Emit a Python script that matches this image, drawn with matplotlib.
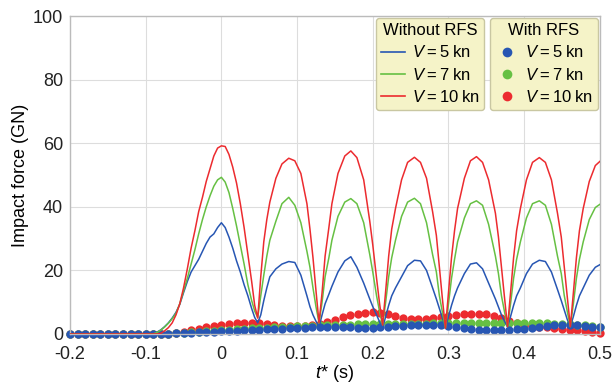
import matplotlib
matplotlib.use('Agg')
import matplotlib.pyplot as plt
from matplotlib.lines import Line2D
import numpy as np

plt.rcParams['font.family'] = ['Liberation Sans', 'DejaVu Sans']
plt.rcParams['mathtext.fontset'] = 'custom'
plt.rcParams['mathtext.rm'] = 'Liberation Sans'
plt.rcParams['mathtext.it'] = 'Liberation Sans:italic'
plt.rcParams['axes.unicode_minus'] = False

# time base for the "without RFS" curves
t_line = [-0.2, -0.15, -0.1, -0.09, -0.085, -0.08, -0.075, -0.07, -0.065, -0.06,
          -0.055, -0.05, -0.045, -0.04, -0.035, -0.03, -0.025, -0.02, -0.015, -0.01,
          -0.005, 0.0, 0.005, 0.01, 0.015, 0.02, 0.025, 0.03, 0.035, 0.04, 0.044, 0.048,
          0.052, 0.056, 0.060, 0.064, 0.072, 0.080, 0.089, 0.097, 0.105, 0.113, 0.117, 0.121, 0.125, 0.129,
          0.133, 0.137, 0.142, 0.146, 0.154, 0.163, 0.171, 0.179, 0.188, 0.196, 0.200, 0.205, 0.209, 0.213,
          0.217, 0.221, 0.225, 0.230, 0.238, 0.246, 0.255, 0.263, 0.271, 0.279, 0.284, 0.288, 0.292, 0.296,
          0.300, 0.304, 0.308, 0.312, 0.321, 0.329, 0.337, 0.345, 0.353, 0.362, 0.366, 0.370, 0.374, 0.378,
          0.382, 0.386, 0.390, 0.395, 0.403, 0.411, 0.420, 0.428, 0.436, 0.444, 0.449, 0.453, 0.457, 0.461,
          0.465, 0.469, 0.473, 0.478, 0.486, 0.494, 0.500]

red_line = [0, 0, 0, 0, 0, 0.2, 1.0, 2.0, 3.5, 6.0,
            9.5, 14.5, 20.5, 27, 32.5, 38.5, 43, 48, 52, 56,
            58.5, 59.2, 59, 56.5, 52.5, 47.5, 41, 33.5, 25, 16.5, 9, 5,
            18, 29, 36, 41.5, 49, 53.5, 55.3, 54.5, 50.5, 41, 33, 24, 13.5, 3.5,
            13, 24.5, 33.5, 41, 50.5, 56, 57.6, 55.5, 48.5, 35.5, 28, 17.5, 9.5, 2.8,
            13.5, 24.5, 33, 39.5, 48.5, 54, 55.6, 54, 49, 38.5, 31, 21, 11, 1.8,
            13, 24, 32.5, 39.5, 49, 54.5, 55.8, 54, 48.5, 38, 30.5, 21, 11.5, 2.3,
            13, 24, 32.5, 39.5, 48.5, 54, 55.5, 54, 48.5, 38, 30.5, 21, 11.5, 2.3,
            13, 24, 32.5, 39.5, 48, 53, 54.3]

green_line = [0, 0, 0, 0, 0.5, 1.2, 2.2, 3.4, 4.8, 6.5,
              9.5, 13.5, 17.5, 22, 26.5, 31.5, 36, 40, 43.5, 46.5,
              48.5, 49.3, 47.8, 44.5, 39.5, 34, 28, 22, 15.5, 10.5, 7.2, 5.2,
              12, 18.5, 24.5, 29.5, 35.5, 41, 43, 40.5, 35, 26, 21, 14.5, 8.5, 3.5,
              10, 18, 24, 29.5, 37, 41.5, 42.6, 41, 35, 25, 19.5, 12, 7, 2.8,
              10, 18, 24, 29.5, 37, 41.5, 42.7, 41, 35, 25, 19.5, 12, 6.8, 1.8,
              9.5, 17.5, 23.5, 29, 36.5, 41, 41.9, 40.5, 34.5, 24.5, 19, 12, 7, 2.3,
              9.5, 17.5, 23.5, 29, 36.5, 41, 41.9, 40.5, 34.5, 24.5, 19, 12, 7, 2.3,
              9.5, 17.5, 23.5, 29, 36, 39.8, 40.8]

blue_line = [0, 0, 0, 0, 0.6, 1.3, 2.3, 3.5, 5, 6.8,
             9.3, 13, 16.5, 19.5, 21.5, 23.5, 26, 28.5, 30.5, 31.5,
             33.5, 35, 33.5, 30.5, 27, 23, 19.5, 15.5, 12, 8, 5.2, 3.5,
             6, 10.5, 14.5, 18, 20.5, 22, 22.8, 22.5, 18.5, 12, 8.6, 6, 4, 2.3,
             6, 9.5, 12.5, 15, 19.5, 23, 24.3, 21, 16, 11, 8.6, 6, 3.8, 1.8,
             5.5, 9, 12, 14.5, 18, 21.5, 23.2, 23, 20, 14.5, 11, 8, 5, 1.8,
             5.5, 9, 12, 14.5, 19, 22, 22.4, 20.5, 16, 11, 8.5, 6, 4, 2.3,
             5.5, 9, 12, 14.5, 19, 22, 23.2, 22.8, 19.5, 14, 10.5, 7.5, 4.5, 2.3,
             5.5, 9, 12, 14.5, 18.5, 21, 21.8]

# "with RFS" samples, every 0.01 s
t_dot = np.round(np.arange(-0.2, 0.5001, 0.01), 2)

blue_dot = [0] * 12 + [
    0.05, 0.15, 0.25, 0.35, 0.45, 0.55, 0.65, 0.75, 0.85, 0.95,
    1.05, 1.15, 1.25, 1.35, 1.45, 1.55, 1.65, 1.75, 1.85, 1.95,
    2.05, 2.15, 2.2, 2.2, 2.15, 2.1, 2.0, 2.0, 2.0, 2.05,
    2.2, 2.4, 2.6, 2.75, 2.85, 2.9, 2.85, 2.7, 2.4, 2.1,
    1.8, 1.5, 1.3, 1.2, 1.15, 1.2, 1.3, 1.45, 1.65, 1.9,
    2.2, 2.5, 2.7, 2.8, 2.8, 2.7, 2.5, 2.3, 2.1]

green_dot = [0] * 12 + [
    0.05, 0.15, 0.3, 0.45, 0.6, 0.75, 0.9, 1.05, 1.2, 1.35,
    1.5, 1.6, 1.75, 1.85, 2.0, 2.1, 2.2, 2.35, 2.45, 2.55,
    2.65, 2.75, 2.8, 2.85, 2.9, 2.95, 3.0, 3.0, 3.05, 3.05,
    3.1, 3.1, 3.15, 3.2, 3.2, 3.25, 3.3, 3.3, 3.3, 3.35,
    3.4, 3.45, 3.5, 3.5, 3.55, 3.6, 3.6, 3.6, 3.55, 3.5,
    3.45, 3.35, 3.25, 3.1, 3.0, 2.85, 2.7, 2.5, 2.3]

red_dot = [0] * 13 + [
    0.05, 0.3, 0.7, 1.2, 1.7, 2.2, 2.6, 2.9, 3.2, 3.4,
    3.5, 3.5, 3.35, 3.1, 2.85, 2.65, 2.55, 2.55, 2.6, 2.8,
    3.2, 3.8, 4.5, 5.2, 5.9, 6.4, 6.7, 6.8, 6.6, 6.2,
    5.6, 5.1, 4.8, 4.7, 4.8, 5.0, 5.4, 5.8, 6.1, 6.3,
    6.4, 6.4, 6.2, 5.8, 5.0, 4.0, 3.3, 2.8, 2.5, 2.3,
    2.1, 1.9, 1.7, 1.4, 1.1, 0.8, 0.6, 0.4]

labels = ['$V$\u2009=\u20095\u2009kn', '$V$\u2009=\u20097\u2009kn', '$V$\u2009=\u200910\u2009kn']
c_blue = '#2756b3'
c_green = '#66c043'
c_red = '#ec2b2f'

fig = plt.figure(figsize=(6.14, 3.85), dpi=100)
ax = fig.add_axes([0.114, 0.1325, 0.863, 0.8255])

for y, c in [(red_dot, c_red), (green_dot, c_green), (blue_dot, c_blue)]:
    ax.plot(t_dot, y, 'o', color=c, ms=6, mec='none', clip_on=False, zorder=2)

for y, c in [(blue_line, c_blue), (green_line, c_green), (red_line, c_red)]:
    ax.plot(t_line, y, '-', color=c, lw=1.1, zorder=3)

ax.set_xlim(-0.2, 0.5)
ax.set_ylim(0, 100)
ax.set_xticks([-0.2, -0.1, 0, 0.1, 0.2, 0.3, 0.4, 0.5])
ax.set_xticklabels(['-0.2', '-0.1', '0', '0.1', '0.2', '0.3', '0.4', '0.5'])
ax.set_yticks([0, 20, 40, 60, 80, 100])
ax.tick_params(labelsize=13, length=0, colors='#222222')
ax.tick_params(axis='x', pad=9)
ax.tick_params(axis='y', pad=5)
ax.grid(True, color='#dddddd', lw=0.8)
ax.set_axisbelow(True)
for s in ax.spines.values():
    s.set_color('#bbbbbb')
    s.set_linewidth(1)

ax.set_xlabel('$t$* (s)', fontsize=13, labelpad=0)
ax.set_ylabel('Impact force (GN)', fontsize=13, labelpad=3)

line_handles = [Line2D([], [], color=c, lw=1.2) for c in (c_blue, c_green, c_red)]
dot_handles = [Line2D([], [], ls='none', marker='o', ms=7, mec='none', color=c)
               for c in (c_blue, c_green, c_red)]

leg_kw = dict(fontsize=12, title_fontsize=12, fancybox=True, framealpha=1,
              facecolor='#f5f3c8', edgecolor='#c9c7a2', loc='upper left',
              labelspacing=0.38, borderpad=0.3, handletextpad=0.4,
              handlelength=1.45, borderaxespad=0)
leg1 = ax.legend(line_handles, labels, title='Without RFS',
                 bbox_to_anchor=(0.577, 0.994), **leg_kw)
ax.add_artist(leg1)
leg2 = ax.legend(dot_handles, labels, title='With RFS',
                 bbox_to_anchor=(0.792, 0.994), **leg_kw)
for lg in (leg1, leg2):
    lg.set_zorder(5)
    lg.get_frame().set_linewidth(1)

fig.savefig('out.png', dpi=100)
